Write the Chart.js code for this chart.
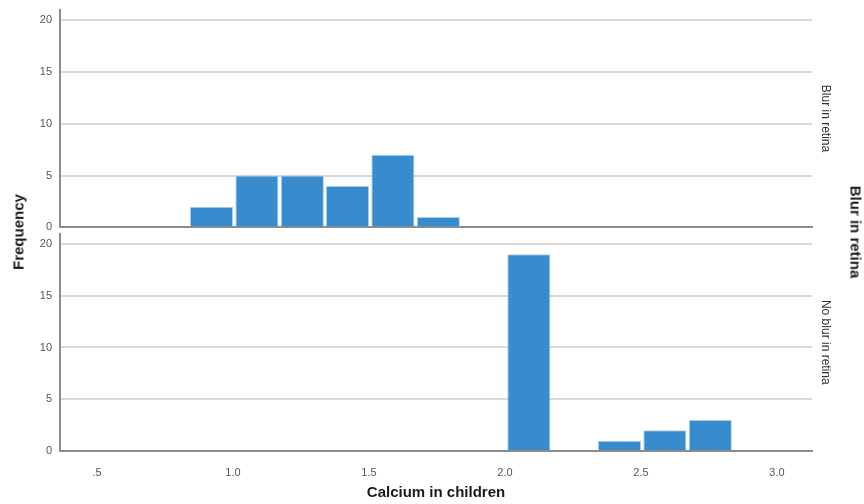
<!DOCTYPE html>
<html>
<head>
<meta charset="utf-8">
<script src="https://cdn.jsdelivr.net/npm/chart.js@4"></script>
<style>
  body { margin: 0; background: #fff; font-family: "Liberation Sans", Arial, sans-serif; }
  #wrap { position: relative; width: 864px; height: 504px; overflow: hidden; }
  .panel { position: absolute; left: 0; width: 864px; }
  #top { top: -5px; height: 247px; }
  #bottom { top: 219px; height: 285px; }
  .lbl { position: absolute; font-weight: bold; font-size: 15px; color: #1a1a1a; white-space: nowrap; }
  #freq { left: 18px; top: 232px; transform: translate(-50%, -50%) rotate(-90deg); }
  #outer { left: 856px; top: 232px; transform: translate(-50%, -50%) rotate(90deg); }
</style>
</head>
<body>
<div id="wrap">
  <div class="panel" id="top"><canvas id="chartTop"></canvas></div>
  <div class="panel" id="bottom"><canvas id="chartBottom"></canvas></div>
  <div class="lbl" id="freq">Frequency</div>
  <div class="lbl" id="outer">Blur in retina</div>
</div>
<script>
// bin midpoints (Calcium in children), bin width ~1/6
const topBins = [0.921, 1.088, 1.255, 1.421, 1.588, 1.755]
const topCounts = [2, 5, 5, 4, 7, 1]

const bottomBins = [2.088, 2.255, 2.421, 2.588, 2.755]
const bottomCounts = [19, 0, 1, 2, 3]

const panelLabels = ["Blur in retina", "No blur in retina"]
const xTitle = "Calcium in children"

const barColor = "rgb(56, 139, 204)"
const gridColor = "#d9d9d9"
const axisColor = "#8c8c8c"
const tickColor = "#555"

function makeChart(canvas, bins, counts, label, showX) {
  return new Chart(canvas, {
    type: "bar",
    data: {
      datasets: [{
        data: bins.map((b, i) => ({ x: b, y: counts[i] })),
        backgroundColor: barColor,
        borderColor: "#a9d0ef",
        borderWidth: 1,
        barPercentage: 0.955,
        categoryPercentage: 1
      }]
    },
    options: {
      responsive: true,
      maintainAspectRatio: false,
      animation: false,
      layout: { padding: 0 },
      plugins: { legend: { display: false }, tooltip: { enabled: false } },
      scales: {
        x: {
          type: "linear",
          offset: false,
          min: 0.364,
          max: 3.129,
          grid: { display: false },
          border: { display: true, color: axisColor, width: 2 },
          ticks: {
            display: showX,
            stepSize: 0.5,
            includeBounds: false,
            padding: 7,
            color: tickColor,
            font: { size: 11, family: "Liberation Sans" },
            maxRotation: 0,
            callback: v => v.toFixed(1).replace(/^0/, "")
          },
          title: {
            display: showX,
            text: xTitle,
            color: "#1a1a1a",
            font: { size: 15, weight: "bold", family: "Liberation Sans" },
            padding: { top: 0, bottom: 2 }
          },
          afterFit: s => { s.height = showX ? 53 : 0 }
        },
        y: {
          position: "left",
          min: 0,
          max: 21,
          grid: { color: gridColor, lineWidth: 2, drawTicks: false },
          border: { display: true, color: axisColor, width: 2 },
          ticks: {
            stepSize: 5,
            includeBounds: false,
            padding: 8,
            color: tickColor,
            font: { size: 11, family: "Liberation Sans" }
          },
          afterFit: s => { s.width = 60 }
        },
        yr: {
          position: "right",
          min: 0,
          max: 21,
          grid: { display: false, drawOnChartArea: false },
          border: { display: false },
          ticks: { display: false },
          title: {
            display: true,
            text: label,
            color: "#333",
            font: { size: 12, family: "Liberation Sans" },
            padding: { top: 31, bottom: 0 }
          },
          afterFit: s => { s.width = 52 }
        }
      }
    }
  })
}

makeChart(document.getElementById("chartTop"), topBins, topCounts, panelLabels[0], false)
makeChart(document.getElementById("chartBottom"), bottomBins, bottomCounts, panelLabels[1], true)
</script>
</body>
</html>
